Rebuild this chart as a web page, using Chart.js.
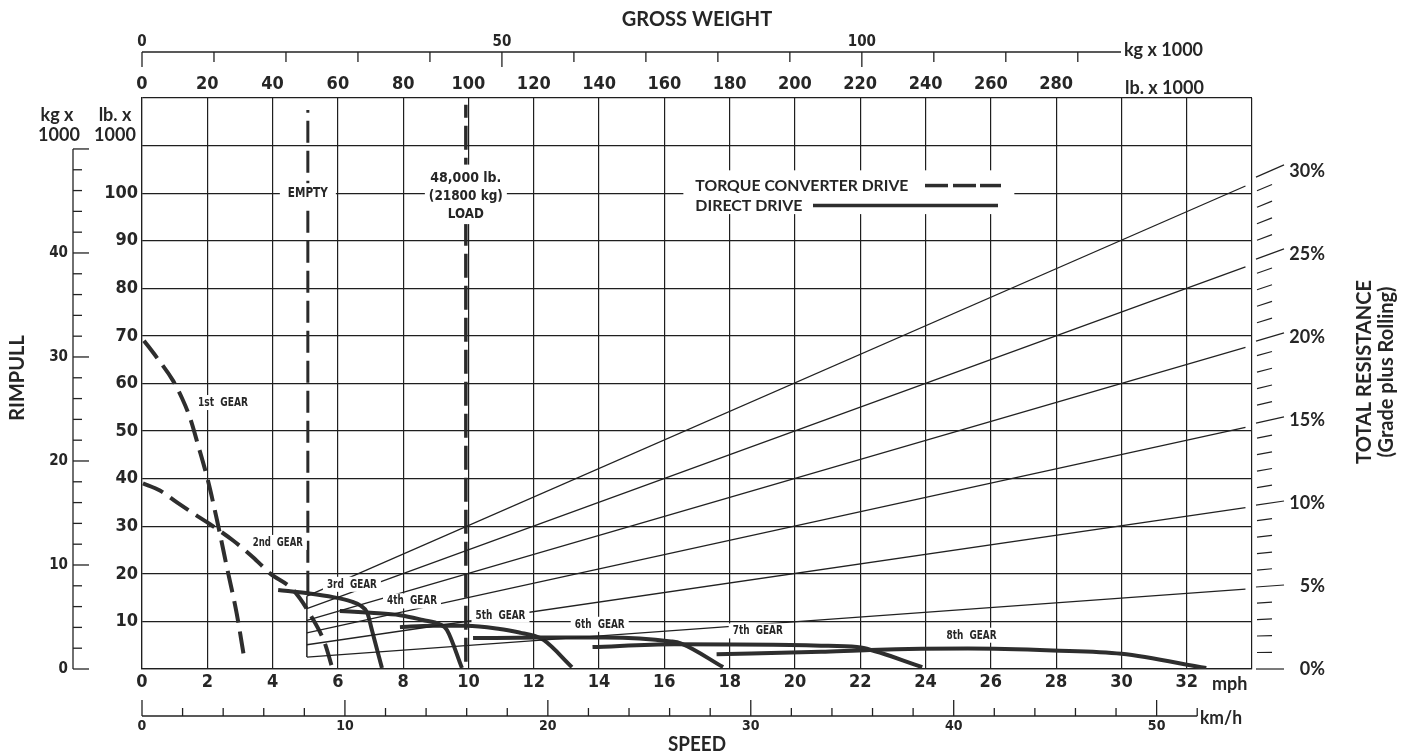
<!DOCTYPE html>
<html lang="en">
<head>
<meta charset="utf-8">
<title>Rimpull - Speed - Gradeability</title>
<script src="https://cdn.jsdelivr.net/npm/chart.js"></script>
<style>
  html, body { margin: 0; padding: 0; background: #fff; overflow: hidden; }
  #wrap { width: 1413px; height: 756px; position: relative; }
</style>
</head>
<body>
<div id="wrap"><canvas id="rimpull"></canvas></div>
<script>
// speed in mph, rimpull in lb x 1000
const gear1Mph  = [0.06, 0.46, 0.95, 1.22, 1.47, 1.72, 2.02, 2.3, 2.6, 2.9, 3.15];
const gear1Pull = [69.0, 65.4, 60.6, 57.0, 52.8, 47.0, 39.6, 31.2, 21.4, 11.7, 1.5];
const gear2Mph  = [0.03, 0.55, 1.07, 1.57, 2.0, 2.79, 3.4, 3.92, 4.63, 5.2, 5.6, 5.82];
const gear2Pull = [39.0, 37.5, 35.0, 32.7, 30.8, 27.0, 23.5, 20.1, 16.6, 10.9, 5.4, 0.4];
const gear3Mph  = [4.17, 5.08, 5.85, 6.4, 6.7, 6.9, 7.05, 7.35];
const gear3Pull = [16.6, 15.9, 15.1, 14.2, 13.3, 11.8, 8.0, 0.2];
const gear4Mph  = [6.06, 7.0, 7.9, 8.6, 9.12, 9.34, 9.8];
const gear4Pull = [12.2, 11.8, 11.3, 10.3, 9.4, 8.2, 0.2];
const gear5Mph  = [7.9, 8.9, 9.95, 10.96, 11.6, 12.0, 12.3, 13.17];
const gear5Pull = [8.8, 9.1, 9.1, 8.4, 7.6, 7.0, 6.1, 0.4];
const gear6Mph  = [10.14, 12.2, 14.2, 16.2, 16.5, 17.8];
const gear6Pull = [6.5, 6.6, 6.6, 5.8, 5.4, 0.4];
const gear7Mph  = [13.8, 16.3, 20.8, 21.9, 22.1, 23.9];
const gear7Pull = [4.6, 5.2, 4.9, 4.6, 4.4, 0.4];
const gear8Mph  = [17.6, 20.8, 22.3, 25.3, 27.9, 30.0, 32.6];
const gear8Pull = [3.1, 3.6, 4.0, 4.3, 3.9, 3.2, 0.2];

// total resistance lines (grade + rolling), start at empty weight, end near right edge
const resistPct      = [5, 10, 15, 20, 25, 30];
const resistFromMph  = 5.05;
const resistToMph    = 33.8;
const resistFromPull = [2.5, 5.1, 7.6, 10.2, 12.7, 15.3];
const resistToPull   = [16.8, 33.9, 50.8, 67.6, 84.5, 101.5];

// empty / loaded gross weight markers (mph position on the speed grid)
const emptyMph = 5.08, emptyPull = [16.0, 117.5];
const loadMph  = 9.92, loadPull  = [1.5, 118.6];

const gearNames = ['1st  GEAR', '2nd  GEAR', '3rd  GEAR', '4th  GEAR', '5th  GEAR', '6th  GEAR', '7th  GEAR', '8th  GEAR'];
const pctTicks = [0, 5, 10, 15, 20, 25, 30];

const INK = '#262626';
const GRID = '#1f1f1f';
const NARROW = "'Liberation Sans Narrow', 'DejaVu Sans Condensed', Roboto, sans-serif";
const HEAVY = "Lato, 'DejaVu Sans', sans-serif";

function pts(xs, ys) { return xs.map((x, i) => ({ x: x, y: ys[i] })); }

function gearSet(xs, ys, dashed) {
  return {
    data: pts(xs, ys), showLine: true, pointRadius: 0, borderColor: '#2e2e2e',
    borderWidth: 4, borderDash: dashed ? [22, 9] : [], cubicInterpolationMode: 'monotone',
    borderCapStyle: 'butt'
  };
}

const datasets = [];
resistPct.forEach((p, i) => {
  datasets.push({ data: pts([resistFromMph, resistToMph], [resistFromPull[i], resistToPull[i]]),
    showLine: true, pointRadius: 0, borderColor: '#222', borderWidth: 1.3 });
});
datasets.push({ data: pts([resistFromMph, resistFromMph], [resistFromPull[0], resistFromPull[5]]),
  showLine: true, pointRadius: 0, borderColor: '#222', borderWidth: 1.5 });
datasets.push({ data: pts([emptyMph, emptyMph], emptyPull), showLine: true, pointRadius: 0,
  borderColor: '#2a2a2a', borderWidth: 3, borderDash: [22, 8] });
datasets.push({ data: pts([loadMph, loadMph], loadPull), showLine: true, pointRadius: 0,
  borderColor: '#2a2a2a', borderWidth: 3.5, borderDash: [24, 8] });
datasets.push(gearSet(gear1Mph, gear1Pull, true));
datasets.push(gearSet(gear2Mph, gear2Pull, true));
datasets.push(gearSet(gear3Mph, gear3Pull, false));
datasets.push(gearSet(gear4Mph, gear4Pull, false));
datasets.push(gearSet(gear5Mph, gear5Pull, false));
datasets.push(gearSet(gear6Mph, gear6Pull, false));
datasets.push(gearSet(gear7Mph, gear7Pull, false));
datasets.push(gearSet(gear8Mph, gear8Pull, false));

// where the annotation text sits, in chart units (mph, lb x 1000)
const gearLabelAt = [[2.48, 56.0], [4.16, 26.6], [6.43, 17.8], [8.27, 14.3], [10.98, 11.3], [14.02, 9.4], [18.86, 8.0], [25.41, 7.1]];

function txt(ctx, s, x, y, font, align, maxW) {
  ctx.font = font;
  ctx.textAlign = align || 'center';
  ctx.textBaseline = 'middle';
  ctx.fillStyle = INK;
  if (maxW) ctx.fillText(s, x, y, maxW); else ctx.fillText(s, x, y);
}

function boxed(ctx, s, x, y, font, h, pad, maxW) {
  ctx.font = font;
  const w = Math.min(ctx.measureText(s).width, maxW || 1e9);
  ctx.fillStyle = '#fff';
  ctx.fillRect(x - w / 2 - pad, y - h / 2, w + 2 * pad, h);
  txt(ctx, s, x, y, font, 'center', maxW);
}

function line(ctx, x1, y1, x2, y2, w) {
  ctx.beginPath();
  ctx.moveTo(x1, y1);
  ctx.lineTo(x2, y2);
  ctx.lineWidth = w;
  ctx.stroke();
}

const decor = {
  id: 'decor',
  afterDatasetsDraw(chart) {
    const ctx = chart.ctx, s = chart.scales;
    const X = v => s.x.getPixelForValue(v), Y = v => s.y.getPixelForValue(v);
    ctx.save();
    // gear labels
    const gf = 'bold 13px ' + NARROW;
    gearNames.forEach((g, i) => boxed(ctx, g, X(gearLabelAt[i][0]), Y(gearLabelAt[i][1]), gf, 15, 4, 50));
    // empty
    boxed(ctx, 'EMPTY', X(emptyMph), Y(100), 'bold 14px ' + NARROW, 20, 8, 40);
    // load
    const lx = X(loadMph);
    ctx.fillStyle = '#fff';
    ctx.fillRect(lx - 41, Y(106), 82, Y(93.5) - Y(106));
    const lf = 'bold 14px ' + NARROW;
    txt(ctx, '48,000 lb.', lx, Y(103.1), lf, 'center', 74);
    txt(ctx, '(21800 kg)', lx, Y(99.4), lf, 'center', 74);
    txt(ctx, 'LOAD', lx, Y(95.6), lf, 'center', 36);
    // legend
    const gx = X(16.95), gy1 = Y(101.6), gy2 = Y(97.4);
    ctx.fillStyle = '#fff';
    ctx.fillRect(gx - 12, Y(104.8), X(26.72) - gx + 12, Y(95.6) - Y(104.8));
    txt(ctx, 'TORQUE CONVERTER DRIVE', gx, gy1, 'bold 16px ' + HEAVY, 'left', 213);
    txt(ctx, 'DIRECT DRIVE', gx, gy2, 'bold 16px ' + HEAVY, 'left', 107);
    ctx.strokeStyle = '#2e2e2e';
    [[925, 948], [953, 976], [980, 1001]].forEach(d => line(ctx, d[0], gy1, d[1], gy1, 3.5));
    line(ctx, 813, gy2, 998, gy2, 3.5);
    ctx.restore();
  },
  afterDraw(chart) {
    const ctx = chart.ctx, s = chart.scales, a = chart.chartArea;
    ctx.save();
    ctx.strokeStyle = '#222';
    // top kg axis
    const ky = 52, kg = s.xKg;
    line(ctx, kg.getPixelForValue(0), ky, kg.getPixelForValue(136), ky, 1.3);
    for (let v = 0; v <= 130; v += 10) {
      const px = kg.getPixelForValue(v);
      line(ctx, px, ky, px, ky + (v % 50 === 0 ? 15 : 10), 1.3);
      if (v % 50 === 0) txt(ctx, String(v), px, 42, 'bold 15px ' + NARROW);
    }
    txt(ctx, 'kg x 1000', 1124, 50, 'bold 18px ' + HEAVY, 'left', 90);
    txt(ctx, 'lb. x 1000', 1125, 88, 'bold 18px ' + HEAVY, 'left', 91);
    txt(ctx, 'GROSS WEIGHT', (a.left + a.right) / 2, 20, 'bold 20px ' + HEAVY, 'center', 158);

    // left kg axis
    const lx = 73, yk = s.yKg;
    line(ctx, lx, yk.getPixelForValue(0), lx, yk.getPixelForValue(50), 1.3);
    for (let v = 0; v <= 50; v += 2) {
      const py = yk.getPixelForValue(v);
      const major = v % 10 === 0;
      line(ctx, lx, py, lx + (major ? 16 : 9), py, 1.3);
      if (major && v < 50) txt(ctx, String(v), 68, py, 'bold 15px ' + NARROW, 'right');
    }
    txt(ctx, 'kg x', 57, 115, 'bold 18px ' + HEAVY, 'center', 40);
    txt(ctx, '1000', 59, 135, 'bold 18px ' + HEAVY, 'center', 44);
    txt(ctx, 'lb. x', 115, 115, 'bold 18px ' + HEAVY, 'center', 39);
    txt(ctx, '1000', 115, 135, 'bold 18px ' + HEAVY, 'center', 43);
    ctx.save();
    ctx.translate(18, 378);
    ctx.rotate(-Math.PI / 2);
    txt(ctx, 'RIMPULL', 0, 0, 'bold 20px ' + HEAVY, 'center', 88);
    ctx.restore();

    // bottom km/h axis
    const by = 716, kh = s.xKmh;
    line(ctx, kh.getPixelForValue(0), by, kh.getPixelForValue(52), by, 1.3);
    for (let v = 0; v <= 52; v += 2) {
      const px = kh.getPixelForValue(v);
      const major = v % 10 === 0;
      line(ctx, px, by, px, by - (major ? 16 : 8), 1.3);
      if (major) txt(ctx, String(v), px, 726, 'bold 14px ' + NARROW);
    }
    txt(ctx, 'mph', 1212, 684, 'bold 18px ' + HEAVY, 'left', 38);
    txt(ctx, 'km/h', 1200, 718, 'bold 18px ' + HEAVY, 'left', 42);
    txt(ctx, 'SPEED', (a.left + a.right) / 2, 745, 'bold 20px ' + HEAVY, 'center', 58);

    // right resistance scale: ticks follow the slope of each resistance line
    const yp = s.yPct;
    const pxPerKlb = s.y.getPixelForValue(0) - s.y.getPixelForValue(10);
    const pxPerMph = s.x.getPixelForValue(1) - s.x.getPixelForValue(0);
    for (let p = 0; p <= 30; p++) {
      const py = yp.getPixelForValue(p);
      const slope = (p / 100) * pxPerKlb / pxPerMph;
      const major = p % 5 === 0;
      const x1 = a.right + (major ? 4 : 5), x2 = a.right + (major ? 32 : 20);
      const xc = (x1 + x2) / 2;
      line(ctx, x1, py + slope * (xc - x1), x2, py - slope * (x2 - xc), 1.2);
    }
    pctTicks.forEach(p => txt(ctx, p + '%', 1325, yp.getPixelForValue(p), 'bold 18px ' + HEAVY, 'right', p >= 10 ? 37 : 27));
    ctx.save();
    ctx.translate(1365, 372);
    ctx.rotate(-Math.PI / 2);
    txt(ctx, 'TOTAL RESISTANCE', 0, 0, 'bold 20px ' + HEAVY, 'center', 197);
    txt(ctx, '(Grade plus Rolling)', 0, 22, 'bold 20px ' + HEAVY, 'center', 211);
    ctx.restore();
    ctx.restore();
  }
};

const tickFont = { family: NARROW, size: 18, weight: 'bold' };

new Chart(document.getElementById('rimpull'), {
  type: 'scatter',
  data: { datasets: datasets },
  plugins: [decor],
  options: {
    responsive: true,
    maintainAspectRatio: false,
    animation: false,
    layout: { padding: { left: 0, right: 161, top: 0, bottom: 0 } },
    plugins: { legend: { display: false }, tooltip: { enabled: false } },
    scales: {
      x: {
        type: 'linear', position: 'bottom', min: 0, max: 34,
        afterFit: sc => { sc.height = 87; },
        ticks: { stepSize: 2, padding: 3, color: INK, font: tickFont, autoSkip: false, maxRotation: 0,
          callback: v => (v <= 32 ? v : '') },
        grid: { color: GRID, lineWidth: 1.2, drawTicks: false },
        border: { color: GRID, width: 1.2 }
      },
      xLb: {
        type: 'linear', position: 'top', min: 0, max: 340,
        afterFit: sc => { sc.height = 98; },
        ticks: { stepSize: 20, padding: 3, color: INK, font: tickFont, autoSkip: false, maxRotation: 0,
          callback: v => (v <= 280 ? v : '') },
        grid: { display: false, drawTicks: false },
        border: { display: false }
      },
      y: {
        type: 'linear', position: 'left', min: 0, max: 120,
        afterFit: sc => { sc.width = 142; },
        ticks: { stepSize: 10, padding: 4, color: INK, font: tickFont, autoSkip: false,
          callback: v => (v > 0 && v <= 100 ? v : '') },
        grid: { color: GRID, lineWidth: 1.2, drawTicks: false },
        border: { color: GRID, width: 1.2 }
      },
      yPct: { type: 'linear', display: false, position: 'right', min: 0, max: 34.4 },
      yKg:  { type: 'linear', display: false, position: 'left', min: 0, max: 54.9 },
      xKg:  { type: 'linear', display: false, position: 'top', min: 0, max: 154.2 },
      xKmh: { type: 'linear', display: false, position: 'bottom', min: 0, max: 54.7 }
    }
  }
});
</script>
</body>
</html>
